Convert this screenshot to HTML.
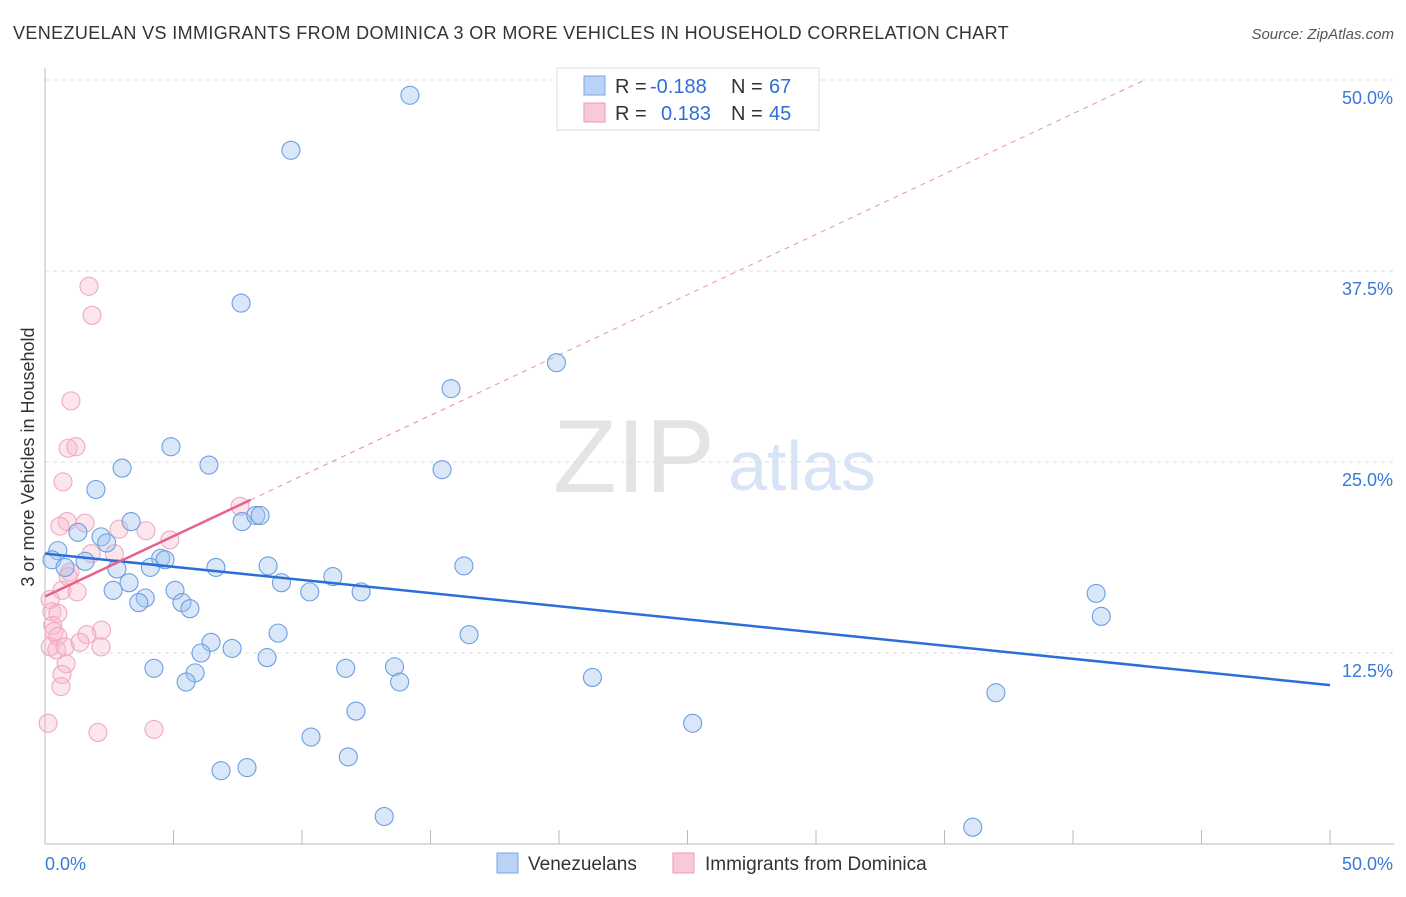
<!DOCTYPE html>
<html><head><meta charset="utf-8">
<style>
body{margin:0;background:#fff;font-family:"Liberation Sans",sans-serif;}
svg text{font-family:"Liberation Sans",sans-serif;}
</style></head>
<body>
<svg id="chart" width="1406" height="892" xmlns="http://www.w3.org/2000/svg">
<text x="13" y="39" font-size="18" fill="#333" letter-spacing="0.37">VENEZUELAN VS IMMIGRANTS FROM DOMINICA 3 OR MORE VEHICLES IN HOUSEHOLD CORRELATION CHART</text>
<text x="1394" y="39" font-size="15" fill="#555" font-style="italic" text-anchor="end">Source: ZipAtlas.com</text>
<text x="634" y="492" font-size="104" fill="#e4e4e4" font-family="Liberation Serif" text-anchor="middle">ZIP</text>
<text x="802" y="490" font-size="70" fill="#d6e4f5" text-anchor="middle">atlas</text>
<g id="grid"></g>
<g id="axes"></g>
<g id="marks"></g>
<g>
<rect x="557" y="68" width="262" height="62" fill="#fff" stroke="#ddd"/>
<rect x="584" y="76" width="21" height="19" fill="#b8d3f5" stroke="#7aa7e0"/>
<rect x="584" y="103" width="21" height="19" fill="#f9c9d7" stroke="#eb9ab3"/>
<text x="615" y="93" font-size="20" fill="#333">R = </text><text x="650" y="93" font-size="20" fill="#2f6fd6">-0.188</text>
<text x="731" y="93" font-size="20" fill="#333">N = </text><text x="769" y="93" font-size="20" fill="#2f6fd6">67</text>
<text x="615" y="120" font-size="20" fill="#333">R = </text><text x="661" y="120" font-size="20" fill="#2f6fd6">0.183</text>
<text x="731" y="120" font-size="20" fill="#333">N = </text><text x="769" y="120" font-size="20" fill="#2f6fd6">45</text>
</g>
<g>
<rect x="497" y="853" width="21" height="20" fill="#b8d3f5" stroke="#7aa7e0"/>
<text x="528" y="870" font-size="19" fill="#333">Venezuelans</text>
<rect x="673" y="853" width="21" height="20" fill="#f9c9d7" stroke="#eb9ab3"/>
<text x="705" y="870" font-size="19" fill="#333">Immigrants from Dominica</text>
</g>
<text transform="translate(34,457) rotate(-90)" font-size="18" fill="#333" text-anchor="middle">3 or more Vehicles in Household</text>
</svg>
<script>
const yTicks=[12.5,25,37.5,50];
const yTickLabels=["12.5%","25.0%","37.5%","50.0%"];
const blueX=[14.2,9.57,7.63,19.9,15.8,4.9,6.38,3.0,15.45,1.98,3.35,7.67,8.2,8.37,1.28,2.18,2.4,0.5,0.27,1.56,0.78,4.5,4.67,4.1,2.8,6.65,8.68,16.3,11.2,3.27,9.2,5.06,2.65,10.3,12.3,40.9,3.9,3.65,5.33,5.64,41.1,9.07,16.5,6.46,6.07,7.28,8.64,4.24,11.7,13.6,5.84,5.49,13.8,21.3,37.0,12.1,25.2,10.35,11.8,7.86,6.85,13.2,36.1];
const blueY=[49.0,45.4,35.4,31.5,29.8,26.0,24.8,24.6,24.5,23.2,21.1,21.1,21.5,21.5,20.4,20.1,19.7,19.2,18.6,18.5,18.1,18.7,18.6,18.1,18.0,18.1,18.2,18.2,17.5,17.1,17.1,16.6,16.6,16.5,16.5,16.4,16.1,15.8,15.8,15.4,14.9,13.8,13.7,13.2,12.5,12.8,12.2,11.5,11.5,11.6,11.2,10.6,10.6,10.9,9.9,8.7,7.9,7.0,5.7,5.0,4.8,1.8,1.1];
const pinkX=[1.71,1.83,1.01,0.9,1.2,0.7,7.59,0.86,0.58,1.56,2.88,3.93,4.86,1.8,2.7,0.97,0.9,0.66,1.25,0.2,0.27,0.5,0.3,0.35,0.5,1.63,2.2,1.36,0.2,0.46,0.78,2.18,0.82,0.66,0.62,0.12,2.06,4.24];
const pinkY=[36.5,34.6,29.0,25.9,26.0,23.7,22.1,21.1,20.8,21.0,20.6,20.5,19.9,19.0,19.0,17.8,17.5,16.6,16.5,16.0,15.2,15.1,14.3,13.9,13.6,13.7,14.0,13.2,12.9,12.7,12.9,12.9,11.8,11.1,10.3,7.9,7.3,7.5];
const blueLine=[19.0,10.4];
const pinkLine=[16.2,0.79];
const X=v=>45+v/50*1285, Y=v=>844-v/12.5*191;
const NS="http://www.w3.org/2000/svg";
function mk(p,t,a){const e=document.createElementNS(NS,t);for(const k in a)e.setAttribute(k,a[k]);p.appendChild(e);return e;}
const grid=document.getElementById('grid'),axes=document.getElementById('axes'),marks=document.getElementById('marks');
yTicks.forEach((t,i)=>{
 const l=mk(grid,'line',{x1:45,x2:1394,y1:Y(t),y2:Y(t),stroke:'#ddd','stroke-dasharray':'4,4'});
 
 
 const tx=mk(axes,'text',{x:1393,y:Y(t)+24,'font-size':18,fill:'#3a78d8','text-anchor':'end'});tx.textContent=yTickLabels[i];
 
 
});
mk(axes,'line',{x1:45,x2:45,y1:68,y2:844,stroke:'#bbb'});
mk(axes,'line',{x1:45,x2:1394,y1:844,y2:844,stroke:'#bbb'});
for(let i=0;i<=10;i++){mk(axes,'line',{x1:X(i*5),x2:X(i*5),y1:830,y2:844,stroke:'#bbb'});}
let t0=mk(axes,'text',{x:45,y:870,'font-size':18,fill:'#3a78d8'});t0.textContent='0.0%';


let t1=mk(axes,'text',{x:1393,y:870,'font-size':18,fill:'#3a78d8','text-anchor':'end'});t1.textContent='50.0%';


const pEnd=(50-pinkLine[0])/pinkLine[1];
let pd=mk(marks,'line',{x1:X(8),y1:Y(pinkLine[0]+pinkLine[1]*8),x2:X(pEnd),y2:Y(50),stroke:'#eb8fae','stroke-width':1,'stroke-dasharray':'5,5'});


pinkX.forEach((x,i)=>{const c=mk(marks,'circle',{cx:X(x),cy:Y(pinkY[i]),r:9,fill:'rgba(248,180,200,0.35)',stroke:'#eeaac0','stroke-width':1.1});
 
 });
blueX.forEach((x,i)=>{const c=mk(marks,'circle',{cx:X(x),cy:Y(blueY[i]),r:9,fill:'rgba(160,195,240,0.4)',stroke:'#6b9fe2','stroke-width':1.1});
 
 });
let bl=mk(marks,'line',{x1:X(0),y1:Y(blueLine[0]),x2:X(50),y2:Y(blueLine[1]),stroke:'#2a6fd8','stroke-width':2.5});


let pl=mk(marks,'line',{x1:X(0),y1:Y(pinkLine[0]),x2:X(8),y2:Y(pinkLine[0]+pinkLine[1]*8),stroke:'#e8608c','stroke-width':2.5});


</script>
</body></html>
